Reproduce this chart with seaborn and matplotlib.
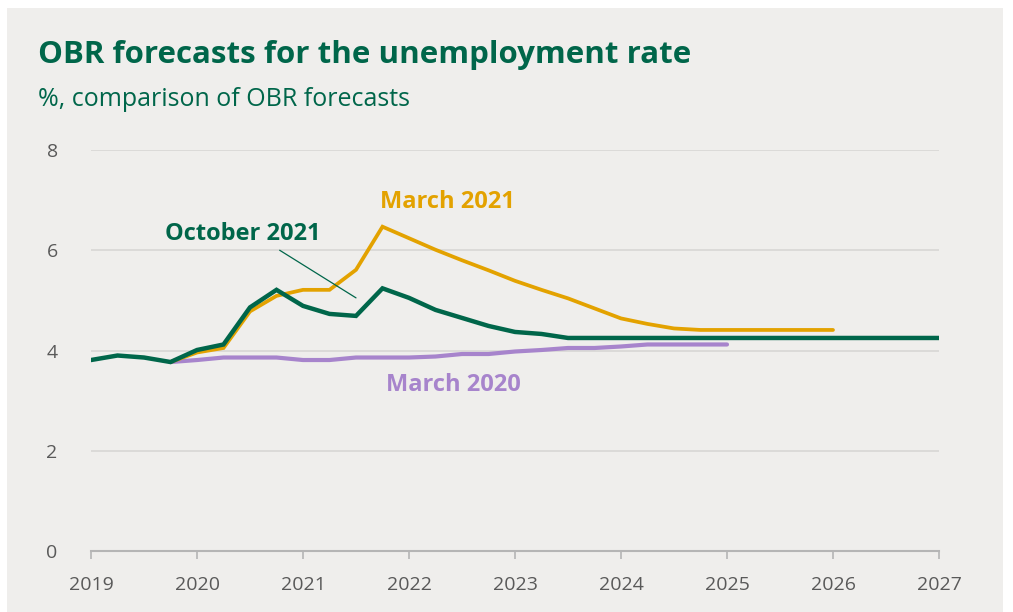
import matplotlib
matplotlib.use("Agg")
import matplotlib.pyplot as plt
import seaborn as sns
import pandas as pd
from matplotlib.patches import Rectangle

# ---- data ----
oct21_x = [2019.0, 2019.25, 2019.5, 2019.75, 2020.0, 2020.25, 2020.5, 2020.75,
           2021.0, 2021.25, 2021.5, 2021.75, 2022.0, 2022.25, 2022.5, 2022.75,
           2023.0, 2023.25, 2023.5, 2023.75, 2024.0, 2024.25, 2024.5, 2024.75,
           2025.0, 2025.25, 2025.5, 2025.75, 2026.0, 2026.25, 2026.5, 2026.75, 2027.0]
oct21_y = [3.81, 3.90, 3.86, 3.77, 4.01, 4.12, 4.86, 5.21,
           4.89, 4.73, 4.69, 5.24, 5.05, 4.81, 4.65, 4.49,
           4.37, 4.33, 4.25, 4.25, 4.25, 4.25, 4.25, 4.25,
           4.25, 4.25, 4.25, 4.25, 4.25, 4.25, 4.25, 4.25, 4.25]

mar21_x = [2019.75, 2020.0, 2020.25, 2020.5, 2020.75, 2021.0, 2021.25, 2021.5,
           2021.75, 2022.0, 2022.25, 2022.5, 2022.75, 2023.0, 2023.25, 2023.5,
           2023.75, 2024.0, 2024.25, 2024.5, 2024.75, 2025.0, 2025.25, 2025.5,
           2025.75, 2026.0]
mar21_y = [3.77, 3.96, 4.05, 4.78, 5.09, 5.21, 5.21, 5.61,
           6.47, 6.24, 6.01, 5.80, 5.60, 5.39, 5.21, 5.04,
           4.84, 4.64, 4.53, 4.44, 4.41, 4.41, 4.41, 4.41,
           4.41, 4.41]

mar20_x = [2019.75, 2020.0, 2020.25, 2020.5, 2020.75, 2021.0, 2021.25, 2021.5,
           2021.75, 2022.0, 2022.25, 2022.5, 2022.75, 2023.0, 2023.25, 2023.5,
           2023.75, 2024.0, 2024.25, 2024.5, 2024.75, 2025.0]
mar20_y = [3.77, 3.81, 3.86, 3.86, 3.86, 3.81, 3.81, 3.86,
           3.86, 3.86, 3.88, 3.93, 3.93, 3.98, 4.01, 4.05,
           4.05, 4.08, 4.12, 4.12, 4.12, 4.12]

series_names = ["March 2020", "March 2021", "October 2021"]
x_ticks = [2019, 2020, 2021, 2022, 2023, 2024, 2025, 2026, 2027]
y_ticks = [0, 2, 4, 6, 8]

title = "OBR forecasts for the unemployment rate"
subtitle = "%, comparison of OBR forecasts"

# ---- style ----
GREEN = "#00664a"
ORANGE = "#e3a200"
PURPLE = "#a784cc"
BG = "#efeeec"
GRID = "#d9d8d6"
TICK = "#595959"

sns.set_theme(style="white")
plt.rcParams["font.family"] = ["Open Sans", "DejaVu Sans"]

df = pd.concat([
    pd.DataFrame({"x": mar20_x, "y": mar20_y, "series": series_names[0]}),
    pd.DataFrame({"x": mar21_x, "y": mar21_y, "series": series_names[1]}),
    pd.DataFrame({"x": oct21_x, "y": oct21_y, "series": series_names[2]}),
], ignore_index=True)

fig = plt.figure(figsize=(10.13, 6.12), dpi=100, facecolor="white")
fig.patches.append(Rectangle((7 / 1013, 0), (1003 - 7) / 1013, 1 - 8 / 612,
                             transform=fig.transFigure, facecolor=BG,
                             edgecolor="none", zorder=-10))

ax = fig.add_axes([91 / 1013, 1 - 551 / 612, (939 - 91) / 1013, (551 - 150) / 612])
ax.set_facecolor("none")

palette = {series_names[0]: PURPLE, series_names[1]: ORANGE, series_names[2]: GREEN}
sizes = {series_names[0]: 3.0, series_names[1]: 2.7, series_names[2]: 3.2}
sns.lineplot(data=df, x="x", y="y", hue="series", palette=palette,
             size="series", sizes=sizes, legend=False, ax=ax, sort=False,
             estimator=None)
for line in ax.get_lines():
    line.set_solid_capstyle("round")
    line.set_solid_joinstyle("miter")

ax.set_xlim(2019, 2027)
ax.set_ylim(0, 8)
ax.set_xticks(x_ticks)
ax.set_xticklabels([str(t) for t in x_ticks])
ax.set_yticks(y_ticks)
ax.set_yticklabels([str(t) for t in y_ticks])
ax.set_xlabel("")
ax.set_ylabel("")

for yv in y_ticks[1:]:
    ax.axhline(yv, color=GRID, lw=1.3, zorder=0)

for s in ["top", "right", "left"]:
    ax.spines[s].set_visible(False)
ax.spines["bottom"].set_color("#b5b5b5")
ax.spines["bottom"].set_linewidth(1.5)

ax.tick_params(axis="x", which="major", direction="out", length=6, width=1.2,
               color="#b5b5b5", labelsize=14, labelcolor=TICK, pad=12, bottom=True)
ax.tick_params(axis="y", which="major", length=0, labelsize=14,
               labelcolor=TICK, pad=24, left=False)

# labels
ax.text(2020.43, 6.33, "October 2021", color=GREEN, fontsize=17, fontweight="bold",
        ha="center", va="center")
ax.text(2022.36, 6.97, "March 2021", color=ORANGE, fontsize=17, fontweight="bold",
        ha="center", va="center")
ax.text(2022.42, 3.31, "March 2020", color=PURPLE, fontsize=17, fontweight="bold",
        ha="center", va="center")
ax.plot([2020.78, 2021.5], [6.0, 5.05], color=GREEN, lw=0.9)

fig.text(38 / 1013, 1 - 55 / 612, title, color=GREEN, fontsize=22.5,
         fontweight="bold", ha="left", va="center")
fig.text(38 / 1013, 1 - 100 / 612, subtitle, color=GREEN, fontsize=18,
         ha="left", va="center")

fig.savefig("out.png", dpi=100, facecolor="white")
